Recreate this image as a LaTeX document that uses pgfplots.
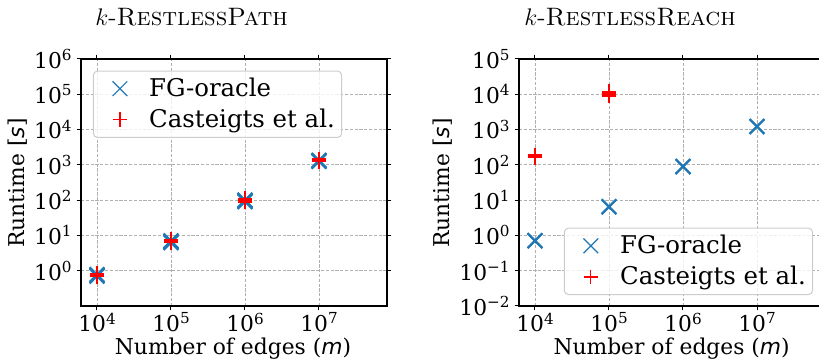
\documentclass[border=0pt]{standalone}
\usepackage{fontspec}
\usepackage{pgfplots}
\pgfplotsset{compat=1.18}
\newfontfamily\djserif{DejaVu Serif}
\newfontfamily\djsans{DejaVu Sans}
\newcommand\sups[1]{\raisebox{0.36em}{\fontsize{7.6}{8}\selectfont #1}}
\definecolor{tabblue}{HTML}{1F77B4}
\definecolor{gridgray}{HTML}{B0B0B0}
\definecolor{legframe}{HTML}{CCCCCC}
\begin{document}
\begin{tikzpicture}
\useasboundingbox (0,0) rectangle (409.5pt,181.5pt);
% Left plot
\begin{axis}[at={(40.5pt,28.5pt)}, anchor=south west,
    scale only axis, xmode=log, ymode=log,
    xmin=6081, xmax=8.3e7,
    width=153pt, height=123.5pt,
    axis line style={line width=0.6pt},
    tick align=outside, major tick length=2.2pt,
    tick style={line width=0.5pt, black},
    xminorticks=false, yminorticks=false,
    xtick={1e4,1e5,1e6,1e7},
    xticklabels={10\sups{4},10\sups{5},10\sups{6},10\sups{7}},
    ticklabel style={font=\djserif\fontsize{10.9}{12}\selectfont},
    xticklabel style={inner sep=1pt},
    yticklabel style={inner sep=2.3pt},
    grid=major,
    major grid style={gridgray, dash pattern=on 1.6pt off 0.8pt, line width=0.4pt},
    legend cell align=left,
    legend style={draw=legframe, fill=white, fill opacity=0.8, text opacity=1,
      rounded corners=2pt, inner sep=1pt, line width=0.5pt,
      font=\djserif\fontsize{12.2}{14}\selectfont,
      nodes={inner sep=2.4pt},
      /tikz/every even column/.append style={column sep=3.3pt}},
    legend image code/.code={\path (0pt,0pt) (24pt,0pt);
      \draw[#1, mark options={line width=0.6pt}] plot coordinates {(12pt,0pt)};},
  ymin=0.1, ymax=1e6,
  ytick={1,10,100,1e3,1e4,1e5,1e6},
  yticklabels={10\sups{0},10\sups{1},10\sups{2},10\sups{3},10\sups{4},10\sups{5},10\sups{6}},
  legend style={at={(0.039,0.953)}, anchor=north west}]
\addplot[only marks, mark=x, mark size=5.2pt, tabblue, mark options={line width=1pt}] coordinates {
 (1e4,0.70) (1e4,0.74) (1e4,0.78)
 (1e5,6.2) (1e5,6.6) (1e5,7.0)
 (1e6,90) (1e6,95) (1e6,100)
 (1e7,1250) (1e7,1300) (1e7,1350)};
\addlegendentry{FG-oracle}
\addplot[only marks, mark=+, mark size=3.67pt, red, mark options={line width=0.8pt}] coordinates {
 (1e4,0.70) (1e4,0.76) (1e4,0.84)
 (1e5,6.3) (1e5,6.9) (1e5,7.6)
 (1e6,88) (1e6,100) (1e6,112)
 (1e7,1250) (1e7,1360) (1e7,1480)};
\addlegendentry{Casteigts et al.}
\end{axis}
% Right plot
\begin{axis}[at={(259.5pt,28.5pt)}, anchor=south west,
    scale only axis, xmode=log, ymode=log,
    xmin=6081, xmax=8.3e7,
    width=153pt, height=123.5pt,
    axis line style={line width=0.6pt},
    tick align=outside, major tick length=2.2pt,
    tick style={line width=0.5pt, black},
    xminorticks=false, yminorticks=false,
    xtick={1e4,1e5,1e6,1e7},
    xticklabels={10\sups{4},10\sups{5},10\sups{6},10\sups{7}},
    ticklabel style={font=\djserif\fontsize{10.9}{12}\selectfont},
    xticklabel style={inner sep=1pt},
    yticklabel style={inner sep=2.3pt},
    grid=major,
    major grid style={gridgray, dash pattern=on 1.6pt off 0.8pt, line width=0.4pt},
    legend cell align=left,
    legend style={draw=legframe, fill=white, fill opacity=0.8, text opacity=1,
      rounded corners=2pt, inner sep=1pt, line width=0.5pt,
      font=\djserif\fontsize{12.2}{14}\selectfont,
      nodes={inner sep=2.4pt},
      /tikz/every even column/.append style={column sep=3.3pt}},
    legend image code/.code={\path (0pt,0pt) (24pt,0pt);
      \draw[#1, mark options={line width=0.6pt}] plot coordinates {(12pt,0pt)};},
  ymin=0.01, ymax=1e5,
  ytick={0.01,0.1,1,10,100,1e3,1e4,1e5},
  yticklabels={10\sups{−2},10\sups{−1},10\sups{0},10\sups{1},10\sups{2},10\sups{3},10\sups{4},10\sups{5}},
  legend style={at={(0.961,0.0445)}, anchor=south east}]
\addplot[only marks, mark=x, mark size=5.2pt, tabblue, mark options={line width=1pt}] coordinates {
 (1e4,0.70) (1e4,0.72)
 (1e5,6.4) (1e5,6.6)
 (1e6,88) (1e6,91)
 (1e7,1200) (1e7,1240)};
\addlegendentry{FG-oracle}
\addplot[only marks, mark=+, mark size=3.67pt, red, mark options={line width=0.8pt}] coordinates {
 (1e4,165) (1e4,178) (1e4,190)
 (1e5,9000) (1e5,10300) (1e5,11800)};
\addlegendentry{Casteigts et al.}
\end{axis}
% Titles and labels
\node[anchor=base, font=\fontsize{12.6}{15}\selectfont] at (95.8pt,168.5pt) {$k$-\textsc{RestlessPath}};
\node[anchor=base, font=\fontsize{12.6}{15}\selectfont] at (315pt,168.5pt) {$k$-\textsc{RestlessReach}};
\node[rotate=90, inner sep=1pt, font=\djserif\fontsize{10.9}{12}\selectfont] at (9pt,90pt) {Runtime [{\djsans\itshape s}]};
\node[rotate=90, inner sep=1pt, font=\djserif\fontsize{10.9}{12}\selectfont] at (221.5pt,90pt) {Runtime [{\djsans\itshape s}]};
\node[anchor=base, inner sep=0pt, font=\djserif\fontsize{10.9}{12}\selectfont] at (116.5pt,4pt) {Number of edges ({\djsans\itshape m})};
\node[anchor=base, inner sep=0pt, font=\djserif\fontsize{10.9}{12}\selectfont] at (335.8pt,4pt) {Number of edges ({\djsans\itshape m})};
\end{tikzpicture}
\end{document}
